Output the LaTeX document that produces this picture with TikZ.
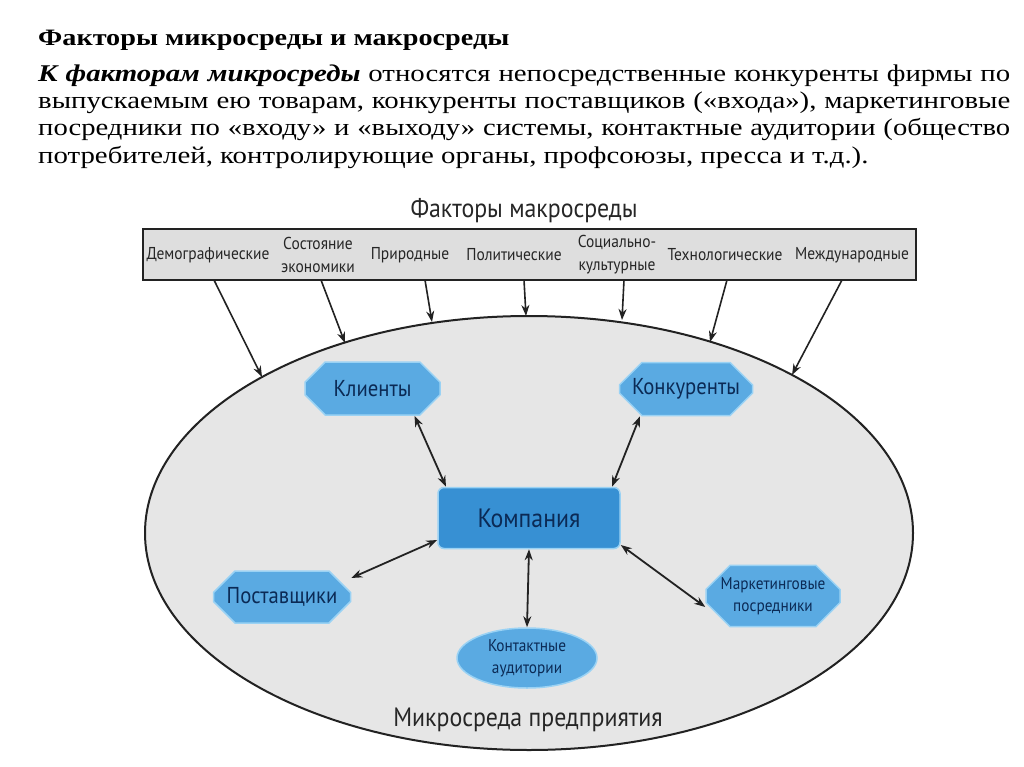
\documentclass[tikz,border=0pt]{standalone}
\usepackage{fontspec}
\usepackage{graphicx}
\setmainfont[FakeStretch=1.2]{Liberation Serif}
\newfontfamily\dg[FakeStretch=0.9]{PT Sans}
\usetikzlibrary{arrows.meta,shapes.geometric,shapes.misc}
\definecolor{barfill}{HTML}{DEDEDE}
\definecolor{envfill}{HTML}{E6E6E6}
\definecolor{octfill}{HTML}{5AAAE2}
\definecolor{octedge}{HTML}{9AD2F4}
\definecolor{compfill}{HTML}{3790D3}
\definecolor{navy}{HTML}{0B2A55}
\definecolor{ink}{HTML}{222222}
\newcommand\jline[1]{\resizebox{972pt}{\height}{\spaceskip=0.33em plus 0.2em minus 0.1em\relax #1}}
\begin{document}
\begin{tikzpicture}[x=1pt,y=-1pt,
  paraline/.style={anchor=base west,inner sep=0pt,font=\fontsize{24}{28}\selectfont},
  baritem/.style={font=\dg\fontsize{17.2}{23}\selectfont,inner sep=0pt,align=center,text=black!85},
  oct/.style={chamfered rectangle,chamfered rectangle xsep=12pt,chamfered rectangle ysep=12pt,
     fill=octfill,draw=octedge,line width=1.5pt,inner sep=0pt,text=navy,align=center},
  comp/.style={rectangle,rounded corners=6pt,fill=compfill,draw=octedge,line width=1.5pt,
     minimum width=182pt,minimum height=61pt,text=navy,font=\dg\fontsize{26.5}{28}\selectfont},
  macroarrow/.style={draw=ink,line width=1.6pt,-{Stealth[length=11pt,width=8pt]}},
  dblarrow/.style={draw=ink,line width=1.8pt,{Stealth[length=11pt,width=8pt]}-{Stealth[length=11pt,width=8pt]}}]
\path[use as bounding box,fill=white] (0,0) rectangle (1024,767);

% heading and paragraph
\node[anchor=base west,inner sep=0pt,font=\bfseries\fontsize{23.5}{27}\selectfont] (title) at (38,46)
  {Факторы микросреды и макросреды};
\node[paraline] (p1) at (38,82) {\jline{\textbf{\textit{К факторам микросреды}} относятся непосредственные конкуренты фирмы по}};
\node[paraline] (p2) at (38,109) {\jline{выпускаемым ею товарам, конкуренты поставщиков («входа»), маркетинговые}};
\node[paraline] (p3) at (38,136) {\jline{посредники по «входу» и «выходу» системы, контактные аудитории (общество}};
\node[paraline] (p4) at (38,164) {потребителей, контролирующие органы, профсоюзы, пресса и т.д.).};

% macro factors
\node[font=\dg\fontsize{26.5}{28}\selectfont,inner sep=0pt,text=black!85] (macro) at (524,211) {Факторы макросреды};
\node[draw=ink,fill=barfill,line width=1.8pt,minimum width=773pt,minimum height=51pt,inner sep=0pt] (bar) at (529.5,254.5) {};
\node[baritem] (d1) at (208,255) {Демографические};
\node[baritem] (d2) at (318,255) {Состояние\\экономики};
\node[baritem] (d3) at (410,255) {Природные};
\node[baritem] (d4) at (514,255) {Политические};
\node[baritem] (d5) at (617,255) {Социально-\\культурные};
\node[baritem] (d6) at (725,255) {Технологические};
\node[baritem] (d7) at (852,255) {Международные};

% environment ellipse
\node[ellipse,draw=ink,fill=envfill,line width=2pt,minimum width=768pt,minimum height=434pt,inner sep=0pt] (env) at (529,533) {};

\coordinate (s1) at (214,280); \coordinate (e1) at (262,377);
\coordinate (s2) at (321,280); \coordinate (e2) at (345,343);
\coordinate (s3) at (425,280); \coordinate (e3) at (432,322);
\coordinate (s4) at (524,280); \coordinate (e4) at (526,316);
\coordinate (s5) at (624,280); \coordinate (e5) at (622,320);
\coordinate (s6) at (727,280); \coordinate (e6) at (710,342);
\coordinate (s7) at (842,280); \coordinate (e7) at (792,375);
\foreach \i in {1,...,7} {\draw[macroarrow] (s\i) -- (e\i);}

% micro environment
\node[oct,minimum width=135pt,minimum height=53pt,font=\dg\fontsize{23}{25}\selectfont] (cl) at (372.5,388.5) {Клиенты};
\node[oct,minimum width=133pt,minimum height=53pt,font=\dg\fontsize{23}{25}\selectfont] (co) at (686,389) {Конкуренты};
\node[comp] (cmp) at (529,518) {Компания};
\node[oct,minimum width=137pt,minimum height=52pt,font=\dg\fontsize{23}{25}\selectfont] (po) at (282,597) {Поставщики};
\node[oct,minimum width=134pt,minimum height=52pt,font=\dg\fontsize{17}{22}\selectfont] (ma) at (773,596) {Маркетинговые\\посредники};
\node[ellipse,fill=octfill,draw=octedge,line width=1.5pt,minimum width=140pt,minimum height=60pt,inner sep=0pt,
      text=navy,align=center,font=\dg\fontsize{17}{22}\selectfont] (ka) at (527,658) {Контактные\\аудитории};
\node[font=\dg\fontsize{26.5}{28}\selectfont,inner sep=0pt,text=black!85] (micro) at (528,720) {Микросреда предприятия};

\draw[dblarrow] ([xshift=42pt]cl.south) -- ([xshift=-83pt]cmp.north);
\draw[dblarrow] ([xshift=-46pt]co.south) -- ([xshift=83pt]cmp.north);
\draw[dblarrow] ([yshift=19pt]po.east) -- ([yshift=-22pt]cmp.west);
\draw[dblarrow] ([yshift=-11pt]ma.west) -- ([yshift=-27pt]cmp.east);
\draw[dblarrow] (cmp.south) -- (ka.north);
\end{tikzpicture}
\end{document}
